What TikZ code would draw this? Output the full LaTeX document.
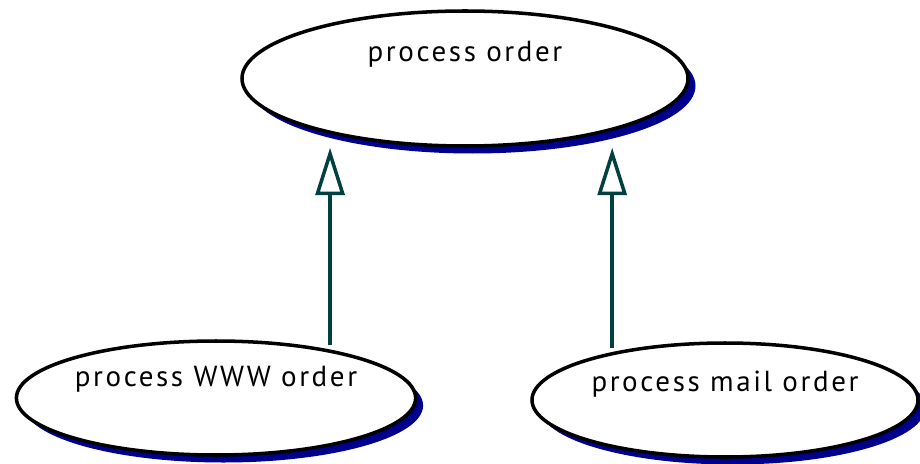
\documentclass[tikz,border=0pt]{standalone}
\usepackage{fontspec}
\setmainfont{PT Sans}[LetterSpace=9]
\usetikzlibrary{arrows.meta,shapes.geometric,shadows}
\definecolor{ucnavy}{RGB}{0,0,140}
\definecolor{ucteal}{RGB}{0,64,64}

\begin{document}
\begin{tikzpicture}[line width=2pt,>={Triangle[open,length=27pt,width=16.5pt]},
  usecase/.style={ellipse,draw=black,fill=white,inner sep=0pt,
    text height=12pt,text depth=#1,font=\fontsize{16.5}{20}\selectfont,
    drop shadow={shadow xshift=0.15cm,shadow yshift=-0.15cm,fill=ucnavy,opacity=1}}]
  \useasboundingbox (0,0) rectangle (18.4,9.26);
  \node[usecase=30.8pt,minimum width=8.92cm,minimum height=2.7cm] (order) at (9.30,7.69) {process order};
  \node[usecase=25.6pt,minimum width=7.96cm,minimum height=2.28cm] (www) at (4.32,1.30) {process WWW order};
  \node[usecase=22.2pt,minimum width=7.72cm,minimum height=2.28cm] (mail) at (14.50,1.26) {process mail order};
  \draw[ucteal,->,shorten <=2.5pt] (www.23) -- (www.23 |- order.south);
  \draw[ucteal,->,shorten <=2.5pt] (mail.157) -- (mail.157 |- order.south);
\end{tikzpicture}
\end{document}
